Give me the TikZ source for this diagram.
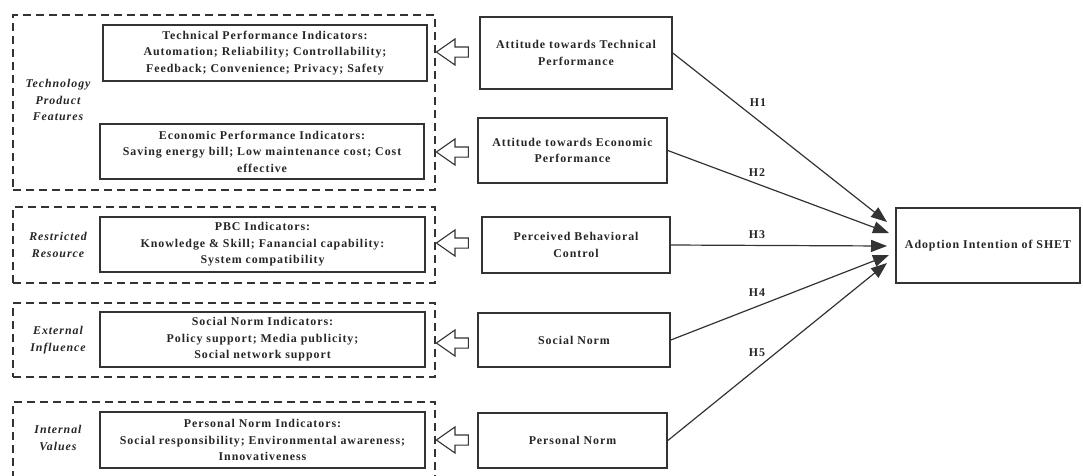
\documentclass[tikz,border=0pt]{standalone}
\usepackage{fontspec}
\setmainfont{Liberation Serif}
\newfontfamily\spacedfont[LetterSpace=8]{Liberation Serif}
\usetikzlibrary{arrows.meta,shapes.arrows}

\begin{document}
\begin{tikzpicture}[x=1pt,y=-1pt,
    every node/.style={font=\spacedfont\bfseries\fontsize{11.9}{16.5}\selectfont, align=center, text=black!85},
    grp/.style={draw=black!80, line width=1.6pt, dash pattern=on 8pt off 5pt, inner sep=0pt},
    ibox/.style={draw=black!80, line width=1.6pt, inner sep=0pt},
    cbox/.style={draw=black!80, line width=1.6pt, inner sep=0pt},
    glabel/.style={font=\spacedfont\bfseries\itshape\fontsize{11.9}{16.5}\selectfont},
    hollow/.style={single arrow, shape border rotate=180, draw=black!80, line width=1.1pt,
        minimum height=32pt, text height=0pt, text depth=0pt, inner xsep=0pt, inner ysep=4.5pt,
        single arrow head extend=8pt, single arrow tip angle=70, single arrow head indent=0pt},
    hyp/.style={draw=black!80, line width=1.2pt, -{Triangle[length=16pt,width=12pt]}},
    hlab/.style={font=\spacedfont\bfseries\fontsize{11.9}{13}\selectfont}]

    % Fix the canvas to the size of the original figure
    \useasboundingbox (0,0) rectangle (1083,475);
    \clip (0,0) rectangle (1083,475);

    % Dashed group boxes on the left
    \node[grp, minimum width=422pt, minimum height=175pt] (g1) at (224,102.5) {};
    \node[grp, minimum width=422pt, minimum height=76pt] (g2) at (224,245) {};
    \node[grp, minimum width=422pt, minimum height=74pt] (g3) at (224,340) {};
    \node[grp, minimum width=422pt, minimum height=88pt] (g4) at (224,446) {};

    % Group labels
    \node[glabel] (l1) at (58,100) {Technology\\Product\\Features};
    \node[glabel] (l2) at (58,245) {Restricted\\Resource};
    \node[glabel] (l3) at (58,340) {External\\Influence};
    \node[glabel] (l4) at (58,438) {Internal\\Values};

    % Indicator boxes inside the groups
    \node[ibox, minimum width=324pt, minimum height=56pt] (tpi) at (265,53)
        {Technical Performance Indicators:\\Automation; Reliability; Controllability;\\Feedback; Convenience; Privacy; Safety};
    \node[ibox, minimum width=324pt, minimum height=55pt] (epi) at (262,151.5)
        {Economic Performance Indicators:\\Saving energy bill; Low maintenance cost; Cost\\effective};
    \node[ibox, minimum width=325pt, minimum height=55pt] (pbci) at (262.5,244.5)
        {PBC Indicators:\\Knowledge \& Skill; Fanancial capability:\\System compatibility};
    \node[ibox, minimum width=325pt, minimum height=55pt] (sni) at (262.5,339.5)
        {Social Norm Indicators:\\Policy support; Media publicity;\\Social network support};
    \node[ibox, minimum width=325pt, minimum height=56pt] (pni) at (262.5,440)
        {Personal Norm Indicators:\\Social responsibility; Environmental awareness;\\Innovativeness};

    % Hollow arrows pointing back to the groups
    \node[hollow] (a1) at (456,52) {};
    \node[hollow] (a2) at (456,152) {};
    \node[hollow] (a3) at (456,243) {};
    \node[hollow] (a4) at (456,343) {};
    \node[hollow] (a5) at (456,440) {};

    % Constructs in the middle column
    \node[cbox, minimum width=192pt, minimum height=72pt] (atp) at (576,53)
        {Attitude towards Technical\\Performance};
    \node[cbox, minimum width=189pt, minimum height=65pt] (aep) at (572.5,150.5)
        {Attitude towards Economic\\Performance};
    \node[cbox, minimum width=188pt, minimum height=56pt] (pbc) at (576,245)
        {Perceived Behavioral\\Control};
    \node[cbox, minimum width=192pt, minimum height=54pt] (sn) at (574,340) {Social Norm};
    \node[cbox, minimum width=189pt, minimum height=55pt] (pn) at (572.5,440.5) {Personal Norm};

    % Outcome box on the right
    \node[cbox, line width=2pt, minimum width=184pt, minimum height=75pt] (ai) at (988,245.5)
        {Adoption Intention of SHET};

    % Arrow ends, just short of the outcome box
    \coordinate (e1) at (887,222);
    \coordinate (e2) at (889,233);
    \coordinate (e3) at (887,246);
    \coordinate (e4) at (889,255);
    \coordinate (e5) at (887,263);

    % Hypothesis paths
    \draw[hyp] (atp.east) -- (e1);
    \draw[hyp] (aep.east) -- (e2);
    \draw[hyp] (pbc.east) -- (e3);
    \draw[hyp] (sn.east) -- (e4);
    \draw[hyp] (pn.east) -- (e5);

    % Hypothesis labels
    \node[hlab] (h1) at (758,103) {H1};
    \node[hlab] (h2) at (757,173) {H2};
    \node[hlab] (h3) at (757,235) {H3};
    \node[hlab] (h4) at (757,293) {H4};
    \node[hlab] (h5) at (757,353) {H5};

\end{tikzpicture}
\end{document}
